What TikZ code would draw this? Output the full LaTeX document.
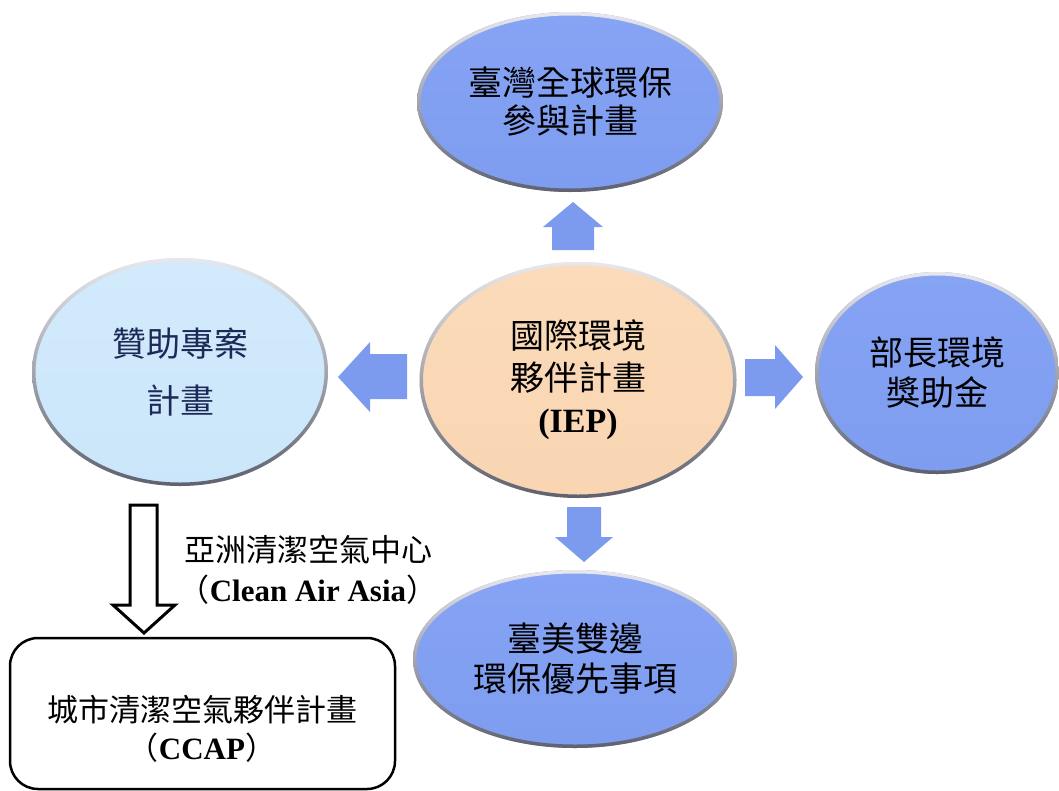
\documentclass[tikz,border=0pt]{standalone}
\usepackage{fontspec}
\setmainfont{Liberation Serif}
\newfontfamily\cjk{Noto Sans CJK TC}
\usetikzlibrary{shapes.geometric}
\definecolor{ellbluetop}{RGB}{134,163,244}
\definecolor{ellbluebot}{RGB}{126,157,240}
\definecolor{peachtop}{RGB}{251,219,186}
\definecolor{peachbot}{RGB}{249,213,178}
\definecolor{lbluetop}{RGB}{210,234,252}
\definecolor{lbluebot}{RGB}{203,230,250}
\definecolor{arrowblue}{RGB}{124,155,238}
\definecolor{rimlight}{RGB}{232,232,236}
\definecolor{rimdark}{RGB}{95,98,110}
\definecolor{navy}{RGB}{28,42,88}
\begin{document}
\begin{tikzpicture}[x=1pt,y=-1pt,
  oval/.style={ellipse, draw=none, inner sep=0pt, align=center},
  blueoval/.style={oval, top color=ellbluetop, bottom color=ellbluebot},
  rimring/.style={even odd rule, top color=rimlight, bottom color=rimdark, draw=none},
  blockarrow/.style={fill=arrowblue, draw=none},
  hollowarrow/.style={fill=white, draw=black, line width=3pt, line join=miter},
  cjkbig/.style={font=\cjk\fontsize{34}{#1}\selectfont},
  plainbox/.style={draw=black, line width=2.5pt, rounded corners=28pt, inner sep=0pt}
]
\useasboundingbox (0,0) rectangle (1059,790);

% ellipses
\node[blueoval, minimum width=306pt, minimum height=180pt, cjkbig=38] (gep) at (570,102)
  {臺灣全球環保\\參與計畫};
\node[oval, top color=peachtop, bottom color=peachbot, minimum width=317pt, minimum height=236pt, cjkbig=42] (iep) at (578,380)
  {國際環境\\夥伴計畫\\{\rmfamily\bfseries (IEP)}};
\node[oval, top color=lbluetop, bottom color=lbluebot, minimum width=296pt, minimum height=228pt, cjkbig=57, text=navy] (sponsor) at (180,372)
  {贊助專案\\計畫};
\node[blueoval, minimum width=244pt, minimum height=202pt, cjkbig=40] (award) at (937,373)
  {部長環境\\獎助金};
\node[blueoval, minimum width=324pt, minimum height=178pt, cjkbig=40] (usprio) at (575,659)
  {臺美雙邊\\環保優先事項};

% bevelled rims
\path[rimring] (gep.center) ellipse [x radius=153pt, y radius=90pt] (gep.center) ellipse [x radius=149.5pt, y radius=86.5pt];
\path[rimring] (iep.center) ellipse [x radius=158.5pt, y radius=118pt] (iep.center) ellipse [x radius=155pt, y radius=114.5pt];
\path[rimring] (sponsor.center) ellipse [x radius=148pt, y radius=114pt] (sponsor.center) ellipse [x radius=144.5pt, y radius=110.5pt];
\path[rimring] (award.center) ellipse [x radius=122pt, y radius=101pt] (award.center) ellipse [x radius=118.5pt, y radius=97.5pt];
\path[rimring] (usprio.center) ellipse [x radius=162pt, y radius=89pt] (usprio.center) ellipse [x radius=158.5pt, y radius=85.5pt];

% block arrows
\fill[blockarrow] (552,250) -- (552,227) -- (543,227) -- (573,202) -- (603,227) -- (594,227) -- (594,250) -- cycle;
\fill[blockarrow] (407,354) -- (370,354) -- (370,342) -- (338,377) -- (370,412) -- (370,399) -- (407,399) -- cycle;
\fill[blockarrow] (745,359) -- (775,359) -- (775,345) -- (803,377) -- (775,409) -- (775,396) -- (745,396) -- cycle;
\fill[blockarrow] (567,507) -- (567,537) -- (555,537) -- (584,562) -- (613,537) -- (601,537) -- (601,507) -- cycle;

% hollow arrow and box
\draw[hollowarrow] (130,505) -- (130,605) -- (113,605) -- (144,633) -- (175,605) -- (157,605) -- (157,505) -- cycle;
\node[plainbox, minimum width=385pt, minimum height=151pt] (ccap) at (202.5,713.5) {};
\node[font=\cjk\fontsize{31}{38}\selectfont, align=center, inner sep=0pt] (ccaptext) at (202,729)
  {城市清潔空氣夥伴計畫\\（{\rmfamily\bfseries CCAP}）};
\node[font=\cjk\fontsize{31}{40}\selectfont, align=center, inner sep=0pt] (cleanair) at (308,570)
  {亞洲清潔空氣中心\\（{\rmfamily\bfseries Clean Air Asia}）};
\end{tikzpicture}
\end{document}
